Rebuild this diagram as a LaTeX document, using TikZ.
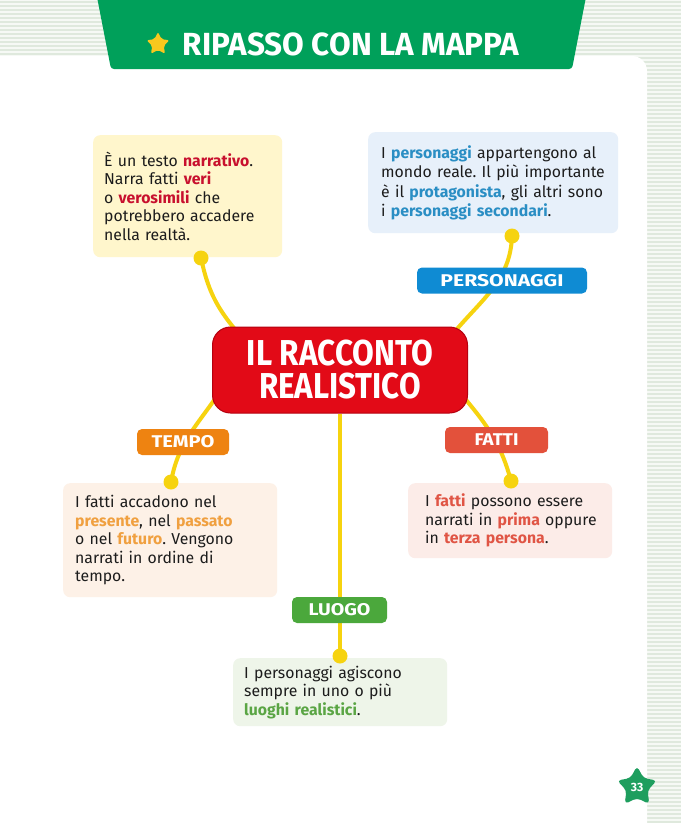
\documentclass[tikz,border=0pt]{standalone}
\usepackage{fontspec}
\usepackage{graphicx}
\setmainfont{Fira Sans}
\usetikzlibrary{shapes.geometric,calc}
\definecolor{hdgreen}{HTML}{00A05A}
\definecolor{stripebg}{HTML}{F6F9F5}
\definecolor{stripeln}{HTML}{DFE9DD}
\definecolor{conn}{HTML}{F6D30F}
\definecolor{mainred}{HTML}{E20A17}
\definecolor{mainredd}{HTML}{B5000F}
\definecolor{boxY}{HTML}{FFF6CC}
\definecolor{boxB}{HTML}{E7F0FA}
\definecolor{boxT}{HTML}{FDF1E7}
\definecolor{boxF}{HTML}{FCECE8}
\definecolor{boxL}{HTML}{EEF5E9}
\definecolor{hlR}{HTML}{C8102E}
\definecolor{hlB}{HTML}{2A8EC4}
\definecolor{hlT}{HTML}{F0A040}
\definecolor{hlF}{HTML}{E05545}
\definecolor{hlL}{HTML}{5AA544}
\definecolor{lbB}{HTML}{0F8BD3}
\definecolor{lbT}{HTML}{EE8311}
\definecolor{lbF}{HTML}{E3513B}
\definecolor{lbL}{HTML}{4BA83C}
\definecolor{txt}{HTML}{1C1C1C}
\definecolor{staryel}{HTML}{F8C81E}
\definecolor{pgstar}{HTML}{1E9E5E}
\pgfdeclarelayer{bg}\pgfdeclarelayer{lines}\pgfsetlayers{bg,lines,main}
\newcommand\hl[2]{{\bfseries\color{#1}#2}}
\frenchspacing
\begin{document}
\begin{tikzpicture}[x=1pt,y=1pt,
 infobox/.style={rectangle, rounded corners=7pt, anchor=north west, align=left, text=txt,
   font=\fontsize{15.8}{18.6}\selectfont, inner ysep=0pt},
 tag/.style={rectangle, rounded corners=5pt, text=white, font=\bfseries\fontsize{17}{17}\selectfont,
   inner sep=0pt, minimum height=26pt},
 dot/.style={circle, fill=conn, inner sep=0pt, minimum size=15pt},
 link/.style={draw=conn, line width=4pt},
]
\useasboundingbox (0,0) rectangle (681,-823);
\begin{pgfonlayer}{bg}
\fill[stripebg] (0,0) rectangle (681,-823);
\foreach \yy in {2,6,...,822} \draw[stripeln, line width=1.3pt] (0,-\yy) -- (681,-\yy);
\fill[white] (0,-823) -- (0,-56) -- (632,-56) arc[start angle=90, end angle=0, radius=15] -- (647,-823) -- cycle;
\fill[hdgreen, rounded corners=3pt] (97,3) -- (586,3) -- (572,-69) -- (111,-69) -- cycle;
\end{pgfonlayer}

\node[star, star points=5, star point ratio=2, fill=staryel, minimum size=24pt, inner sep=0pt, rounded corners=2pt] (tstar) at (158,-44) {};
\node[text=white, font=\bfseries\fontsize{32}{32}\selectfont, inner sep=0pt] (title) at (351,-44) {\resizebox{336pt}{\height}{RIPASSO CON LA MAPPA}};

\node[infobox, fill=boxY, text width=167pt, inner xsep=11pt, minimum height=122pt] (bY) at (93,-135)
 {È un testo \hl{hlR}{narrativo}.\\ Narra fatti \hl{hlR}{veri}\\ o \hl{hlR}{verosimili} che\\ potrebbero accadere\\ nella realtà.};
\node[infobox, fill=boxB, text width=224pt, inner xsep=13pt, minimum height=101pt,
 font=\fontsize{15.8}{19.3}\selectfont] (bB) at (368,-132)
 {I \hl{hlB}{personaggi} appartengono al\\ mondo reale. Il più importante\\ è il \hl{hlB}{protagonista}, gli altri sono\\ i \hl{hlB}{personaggi secondari}.};
\node[infobox, fill=boxT, text width=190pt, inner xsep=12pt, minimum height=114pt] (bT) at (63,-483)
 {I fatti accadono nel\\ \hl{hlT}{presente}, nel \hl{hlT}{passato}\\ o nel \hl{hlT}{futuro}. Vengono\\ narrati in ordine di\\ tempo.};
\node[infobox, fill=boxF, text width=170pt, inner xsep=17pt, minimum height=75pt] (bF) at (408,-483)
 {\mbox{I \hl{hlF}{fatti} possono essere}\\ \mbox{narrati in \hl{hlF}{prima} oppure}\\ \mbox{in \hl{hlF}{terza persona}.}};
\node[infobox, fill=boxL, text width=192pt, inner xsep=11pt, minimum height=68pt] (bL) at (233,-658)
 {I personaggi agiscono\\ sempre in uno o più\\ \hl{hlL}{luoghi realistici}.};

\node[dot] (dY) at (201,-258) {};
\node[dot] (dP) at (512,-236) {};
\node[dot] (dT) at (171,-482) {};
\node[dot] (dF) at (511,-481) {};
\node[dot] (dL) at (340,-656) {};

\node[tag, fill=lbB, minimum width=170pt] (tP) at (502,-280.5) {\resizebox{123pt}{\height}{PERSONAGGI}};
\node[tag, fill=lbT, minimum width=92pt] (tT) at (183,-442) {\resizebox{63pt}{\height}{TEMPO}};
\node[tag, fill=lbF, minimum width=103pt] (tF) at (496.5,-440) {\resizebox{44pt}{\height}{FATTI}};
\node[tag, fill=lbL, minimum width=95pt] (tL) at (339.5,-610) {\resizebox{62pt}{\height}{LUOGO}};

\node[rectangle, rounded corners=18pt, fill=mainred, draw=mainredd, line width=1pt,
 minimum width=255pt, minimum height=86pt, text=white, align=center,
 font=\bfseries\fontsize{36}{33}\selectfont] (main) at (340,-370)
 {\resizebox{186pt}{\height}{IL RACCONTO}\\\resizebox{162pt}{\height}{REALISTICO}};

\node[star, star points=5, star point ratio=1.9, fill=pgstar, minimum size=42pt, rounded corners=4pt,
 inner sep=0pt, text=white, font=\bfseries\fontsize{12}{12}\selectfont] (pg) at (637,-787) {33};

\begin{pgfonlayer}{lines}
\draw[link] (dY.center) to[out=-78,in=130] ($(main.north west)+(24,-4)$);
\draw[link] (dP.center) to[out=-92,in=50] ($(main.north east)+(-14,-6)$);
\draw[link] ($(main.south west)+(4,16)$) to[out=-125,in=80] (dT.center);
\draw[link] ($(main.south east)+(-4,16)$) to[out=-50,in=105] (dF.center);
\draw[link] (main.south) -- (dL.center);
\end{pgfonlayer}
\end{tikzpicture}
\end{document}
